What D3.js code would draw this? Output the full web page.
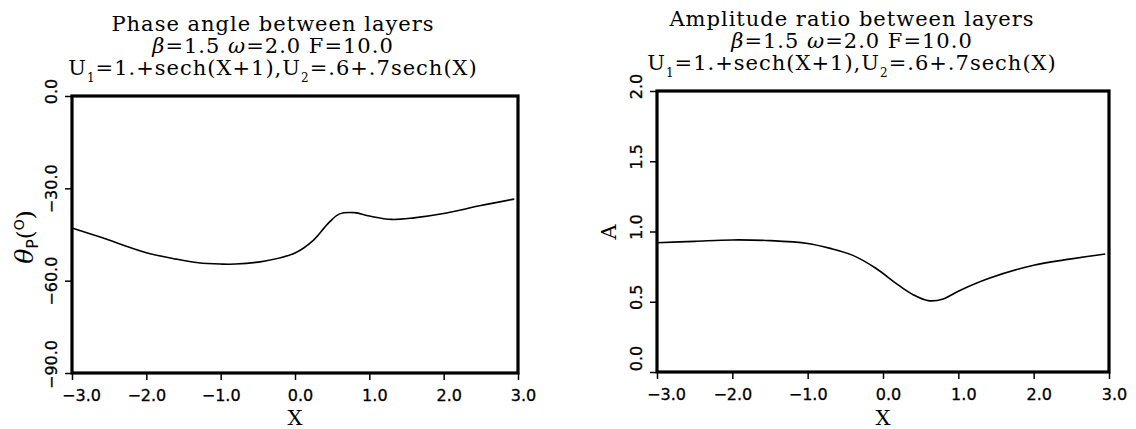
<!DOCTYPE html>
<html><head><meta charset="utf-8">
<script src="https://cdn.jsdelivr.net/npm/d3@7"></script>
<style>
body{margin:0;background:#fff;}
svg{display:block;}
.tick text{font-family:"DejaVu Sans",sans-serif;font-size:16px;fill:#000;stroke:#000;stroke-width:0.3px;}
.ttl{font-family:"DejaVu Serif",serif;font-size:21px;letter-spacing:1px;fill:#000;}
.lab{font-family:"DejaVu Serif",serif;font-size:21px;fill:#000;}
</style></head>
<body>
<script>
// ---- data ----
const phaseX = [-3.0,-2.6,-2.0,-1.6,-1.3,-1.0,-0.8,-0.4,0.0,0.25,0.45,0.6,0.8,1.0,1.3,1.6,2.0,2.5,2.95];
const phaseY = [-42.9,-46.0,-50.9,-53.0,-54.2,-54.6,-54.6,-53.6,-51.0,-46.8,-41.3,-38.3,-37.9,-39.0,-40.1,-39.6,-38.2,-35.6,-33.5];
const ampX = [-3.0,-2.5,-2.0,-1.5,-1.0,-0.7,-0.4,-0.1,0.2,0.4,0.6,0.8,1.0,1.4,2.0,2.5,2.95];
const ampY = [0.92,0.93,0.94,0.935,0.915,0.88,0.83,0.74,0.62,0.55,0.508,0.52,0.575,0.665,0.76,0.805,0.84];
const xTicks = [-3,-2,-1,0,1,2,3];
const phaseTicks = [0,-30,-60,-90];
const ampTicks = [0,0.5,1.0,1.5,2.0];
const titles1 = ["Phase angle between layers","Amplitude ratio between layers"];

const W=1136,H=429;
const svg=d3.select("body").append("svg").attr("width",W).attr("height",H);
const fmt=d3.format(".1f");

function panel(o){
  const x=d3.scaleLinear().domain([-3,3]).range([o.x0,o.x1]);
  const y=d3.scaleLinear().domain(o.ydom).range([o.y1,o.y0]);
  const g=svg.append("g");
  const cx=o.tcx;
  g.append("text").attr("class","ttl").attr("x",cx).attr("y",o.tb).attr("text-anchor","middle").text(o.title);
  const l2=g.append("text").attr("class","ttl").attr("x",cx).attr("y",o.tb+22).attr("text-anchor","middle");
  l2.append("tspan").attr("font-style","italic").text("β");
  l2.append("tspan").text("=1.5 ");
  l2.append("tspan").attr("font-style","italic").text("ω");
  l2.append("tspan").text("=2.0 F=10.0");
  const l3=g.append("text").attr("class","ttl").attr("x",cx).attr("y",o.tb+44).attr("text-anchor","middle");
  l3.append("tspan").text("U");
  l3.append("tspan").attr("font-size","12px").attr("dy",7).text("1");
  l3.append("tspan").attr("dy",-7).text("=1.+sech(X+1),U");
  l3.append("tspan").attr("font-size","12px").attr("dy",7).text("2");
  l3.append("tspan").attr("dy",-7).text("=.6+.7sech(X)");
  const shift=(v,corner)=>(v>=0?5:0)+(v===corner?9:0);
  const ax=g.append("g").attr("transform",`translate(0,${o.y1})`)
    .call(d3.axisBottom(x).tickValues(xTicks).tickFormat(fmt).tickSize(7).tickSizeOuter(0));
  ax.select(".domain").remove();
  ax.selectAll(".tick line").attr("stroke","#000").attr("stroke-width",1.5);
  ax.selectAll(".tick text").attr("y",28).attr("dy",null).attr("x",d=>shift(d,-3));
  const ay=g.append("g").attr("transform",`translate(${o.x0},0)`)
    .call(d3.axisLeft(y).tickValues(o.yticks).tickFormat(fmt).tickSize(7).tickSizeOuter(0));
  ay.select(".domain").remove();
  ay.selectAll(".tick line").attr("stroke","#000").attr("stroke-width",1.5);
  ay.selectAll(".tick text").attr("x",null).attr("dy",null).attr("y",0)
    .attr("text-anchor","middle").attr("transform",d=>`translate(-15,${-shift(d,o.ydom[0])}) rotate(-90)`);
  g.append("rect").attr("x",o.x0).attr("y",o.y0).attr("width",o.x1-o.x0).attr("height",o.y1-o.y0)
    .attr("fill","none").attr("stroke","#000").attr("stroke-width",3.2);
  const pts=o.xs.map((v,i)=>[v,o.ys[i]]);
  g.append("path").datum(pts).attr("fill","none").attr("stroke","#000").attr("stroke-width",1.6)
    .attr("d",d3.line().x(d=>x(d[0])).y(d=>y(d[1])).curve(d3.curveCatmullRom.alpha(0.5)));
  g.append("text").attr("class","lab").attr("x",(o.x0+o.x1)/2).attr("y",425).attr("text-anchor","middle").text("X");
  return {g,x,y};
}

panel({x0:72,x1:518,y0:96,y1:373,ydom:[-90,0],yticks:phaseTicks,xs:phaseX,ys:phaseY,
  title:titles1[0],tcx:273,tb:31});
panel({x0:657,x1:1109,y0:91,y1:372,ydom:[0,2],yticks:ampTicks,xs:ampX,ys:ampY,
  title:titles1[1],tcx:852,tb:26});

const yl=svg.append("text").attr("class","lab").attr("text-anchor","middle")
  .attr("transform","translate(33,237) rotate(-90)");
yl.append("tspan").attr("font-style","italic").attr("font-size","25px").text("θ");
yl.append("tspan").attr("font-family","DejaVu Sans").attr("font-size","16px").attr("dy",5).text("P");
yl.append("tspan").attr("dy",-5).attr("font-size","23px").text("(");
yl.append("tspan").attr("font-family","DejaVu Sans").attr("font-size","14px").attr("dy",-9).text("O");
yl.append("tspan").attr("dy",9).attr("font-size","23px").text(")");
svg.append("text").attr("class","lab").attr("text-anchor","middle").attr("font-size","22px")
  .attr("transform","translate(616,232) rotate(-90)").text("A");
</script>
</body></html>
